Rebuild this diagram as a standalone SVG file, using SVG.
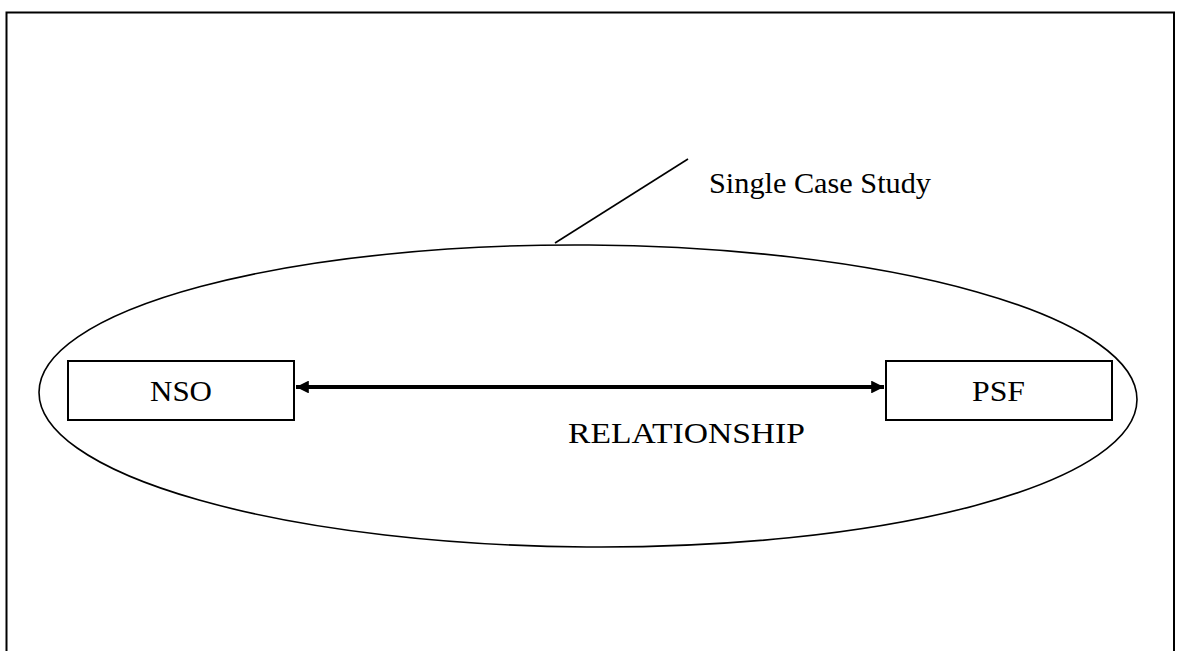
<svg xmlns="http://www.w3.org/2000/svg" width="1178" height="651" viewBox="0 0 1178 651">
<style>
text{font-family:"Liberation Serif","Times New Roman",serif;font-size:29px;fill:#000}
.box{fill:#fff;stroke:#000;stroke-width:2}
.ln{fill:none;stroke:#000}
</style>
<defs>
<marker id="ah" viewBox="0 0 10 10" refX="10" refY="5" markerWidth="4" markerHeight="3.2" orient="auto-start-reverse" markerUnits="strokeWidth">
<path d="M0,0 L10,5 L0,10 z" fill="#000"/>
</marker>
</defs>
<rect width="1178" height="651" fill="#fff"/>
<path class="ln" stroke-width="2" d="M6.5,660 V12.5 H1174 V660"/>
<g id="case">
<ellipse class="ln" stroke-width="1.6" cx="588" cy="396" rx="549" ry="151" transform="rotate(0.4 588 396)"/>
<line class="ln" stroke-width="1.6" x1="555" y1="243" x2="688" y2="159"/>
<text x="709" y="193" textLength="222" lengthAdjust="spacingAndGlyphs">Single Case Study</text>
</g>
<g id="nso">
<rect class="box" x="68" y="361" width="226" height="59"/>
<text x="150" y="401" textLength="62" lengthAdjust="spacingAndGlyphs">NSO</text>
</g>
<g id="psf">
<rect class="box" x="886" y="361" width="226" height="59"/>
<text x="972" y="401" textLength="53" lengthAdjust="spacingAndGlyphs">PSF</text>
</g>
<g id="connectors">
<line class="ln" stroke-width="4" x1="296" y1="387" x2="884" y2="387" marker-start="url(#ah)" marker-end="url(#ah)"/>
<text x="568" y="443" textLength="237" lengthAdjust="spacingAndGlyphs">RELATIONSHIP</text>
</g>
</svg>
